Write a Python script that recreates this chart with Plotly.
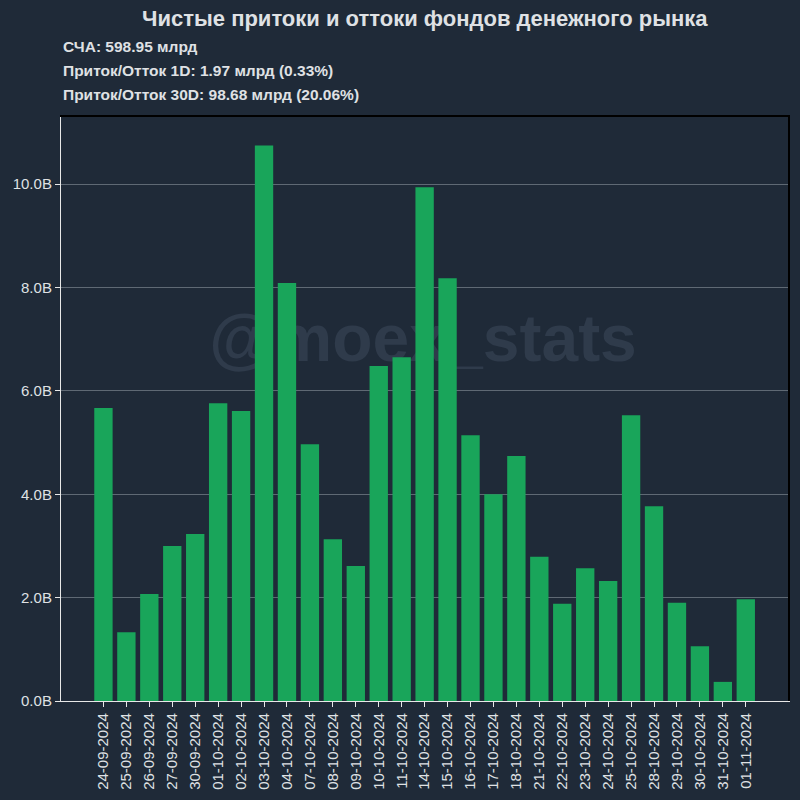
import plotly.graph_objects as go

dates = ["24-09-2024", "25-09-2024", "26-09-2024", "27-09-2024", "30-09-2024",
         "01-10-2024", "02-10-2024", "03-10-2024", "04-10-2024", "07-10-2024",
         "08-10-2024", "09-10-2024", "10-10-2024", "11-10-2024", "14-10-2024",
         "15-10-2024", "16-10-2024", "17-10-2024", "18-10-2024", "21-10-2024",
         "22-10-2024", "23-10-2024", "24-10-2024", "25-10-2024", "28-10-2024",
         "29-10-2024", "30-10-2024", "31-10-2024", "01-11-2024"]
flows_bn = [5.67, 1.33, 2.07, 3.00, 3.23, 5.76, 5.61, 10.75, 8.09, 4.97,
            3.13, 2.61, 6.48, 6.65, 9.94, 8.18, 5.14, 4.00, 4.74, 2.79,
            1.88, 2.57, 2.32, 5.53, 3.77, 1.90, 1.06, 0.37, 1.97]
ytick_vals = [0, 2e9, 4e9, 6e9, 8e9, 10e9]
ytick_text = ["0.0B", "2.0B", "4.0B", "6.0B", "8.0B", "10.0B"]

title = "Чистые притоки и оттоки фондов денежного рынка"
info_lines = ["СЧА: 598.95 млрд",
              "Приток/Отток 1D: 1.97 млрд (0.33%)",
              "Приток/Отток 30D: 98.68 млрд (20.06%)"]
watermark = "@moex_stats"

BG = "#1f2a38"
BAR = "#19a55a"
TXT = "#dfe1e4"
FONT = "Liberation Sans, Arial, sans-serif"

values = [v * 1e9 for v in flows_bn]

fig = go.Figure()
# watermark on base axes (drawn beneath the bars)
fig.add_trace(go.Scatter(x=[0.498], y=[0.61], mode="text", text=["<b>%s</b>" % watermark],
                         textfont=dict(family=FONT, size=66, color="#2f3b4b"),
                         hoverinfo="skip", showlegend=False, xaxis="x", yaxis="y",
                         cliponaxis=False))
fig.add_trace(go.Bar(x=dates, y=values, marker=dict(color=BAR, line=dict(width=0)),
                     xaxis="x2", yaxis="y2", showlegend=False))

ann = []
ann.append(dict(text="<b>%s</b>" % title, xref="paper", yref="paper", x=0.5, y=1.1695,
                xanchor="center", yanchor="middle", showarrow=False,
                font=dict(family=FONT, size=22, color=TXT)))
ys = [1.1215, 1.0795, 1.038]
for t, yy in zip(info_lines, ys):
    ann.append(dict(text="<b>%s</b>" % t, xref="paper", yref="paper", x=0.0, y=yy,
                    xanchor="left", yanchor="middle", showarrow=False,
                    font=dict(family=FONT, size=15.5, color=TXT)))

fig.update_layout(
    width=800, height=800,
    paper_bgcolor=BG, plot_bgcolor=BG,
    margin=dict(l=61, r=12, t=117, b=99, autoexpand=False),
    font=dict(family=FONT, size=15, color=TXT),
    bargap=0.2,
    annotations=ann,
    xaxis=dict(range=[0, 1], side="top", showline=True, linecolor="#000000", linewidth=1.5,
               showgrid=False, zeroline=False, showticklabels=False, ticks="",
               automargin=False, fixedrange=True),
    yaxis=dict(range=[0, 1], side="right", showline=True, linecolor="#000000", linewidth=1.5,
               showgrid=False, zeroline=False, showticklabels=False, ticks="",
               automargin=False, fixedrange=True),
    xaxis2=dict(overlaying="x", side="bottom", anchor="y2", type="category",
                range=[-1.85, 29.84], showline=True, linecolor="#e8e8e8", linewidth=1.2,
                ticks="outside", ticklen=5, tickcolor="#e8e8e8", tickangle=-90,
                showgrid=False, zeroline=False, tickfont=dict(size=15, color=TXT),
                automargin=False),
    yaxis2=dict(overlaying="y", side="left", anchor="x2", range=[0, 11.3e9],
                tickvals=ytick_vals, ticktext=ytick_text,
                showline=True, linecolor="#e8e8e8", linewidth=1.2,
                ticks="outside", ticklen=5, tickcolor="#e8e8e8",
                showgrid=True, gridcolor="#5f6974", gridwidth=1, zeroline=False,
                tickfont=dict(size=15, color=TXT), automargin=False),
)

fig.write_html("out.html", config={"displayModeBar": False},
               post_script="document.body.style.margin='0';document.body.style.background='%s';" % BG)
